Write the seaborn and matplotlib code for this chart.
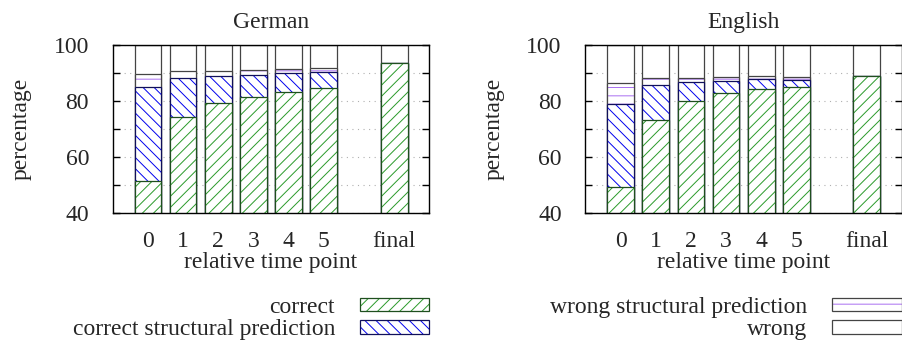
import pandas as pd
import seaborn as sns
import matplotlib.pyplot as plt
from matplotlib.patches import Patch
from matplotlib.ticker import MultipleLocator

sns.set_style("white")
plt.rcParams['font.family'] = ['Liberation Serif', 'DejaVu Serif']
plt.rcParams['hatch.linewidth'] = 0.7

time_points = ["0", "1", "2", "3", "4", "5", "final"]
# blank slot keeps a gap between "5" and "final"
slot_order = ["0", "1", "2", "3", "4", "5", " ", "final"]

german_correct = [51.6, 74.2, 79.1, 81.5, 83.2, 84.7, 93.4]
german_correct_struct = [33.5, 13.8, 9.8, 7.8, 6.7, 5.7, 0.0]
german_wrong_struct = [4.5, 2.7, 1.9, 1.6, 1.3, 1.2, 0.0]

english_correct = [49.5, 73.2, 80.1, 82.7, 84.1, 84.8, 88.9]
english_correct_struct = [29.4, 12.5, 6.5, 4.5, 3.6, 2.6, 0.0]
english_wrong_struct = [7.4, 2.3, 1.7, 1.2, 1.2, 1.2, 0.0]

# (segment, hatch colour, outline colour, hatch) drawn back to front
segments = [
    ("wrong", "white", "#444444", ""),
    ("wrong structural prediction", "#a86ff0", "#444444", "--"),
    ("correct structural prediction", "#0000ee", "#10105a", "\\\\\\"),
    ("correct", "#2a9a2a", "#1f4f1f", "///"),
]
seg_style = {s[0]: s for s in segments}


def stack_tops(correct, correct_struct, wrong_struct):
    tops = pd.DataFrame({"time": time_points})
    tops["correct"] = correct
    tops["correct structural prediction"] = tops["correct"] + correct_struct
    tops["wrong structural prediction"] = tops["correct structural prediction"] + wrong_struct
    tops["wrong"] = 100.0
    return tops


def draw_panel(ax, tops, title, legend_labels):
    for name, hcol, ecol, hatch in segments:
        sns.barplot(data=tops, x="time", y=name, order=slot_order, ax=ax,
                    width=0.76, color="white", saturation=1, errorbar=None,
                    edgecolor=hcol, linewidth=0, hatch=hatch)
        sns.barplot(data=tops, x="time", y=name, order=slot_order, ax=ax,
                    width=0.76, color=ecol, saturation=1, errorbar=None,
                    fill=False, linewidth=0.9)

    ax.set_xlim(-1, 8)
    ax.set_ylim(40, 100)
    ax.yaxis.set_major_locator(MultipleLocator(20))
    ax.yaxis.set_minor_locator(MultipleLocator(10))
    ax.grid(axis="y", which="both", color="#b0b0b0", linestyle=(0, (1, 4)), linewidth=0.8)
    ax.set_axisbelow(True)
    for sp in ax.spines.values():
        sp.set_color("black")
        sp.set_linewidth(1.0)

    ax.tick_params(axis="y", which="both", left=True, right=True, direction="in",
                   length=5, width=1, color="black", pad=17, labelsize=17)
    ax.tick_params(axis="x", length=0, pad=13, labelsize=17)

    ax.set_title(title, fontsize=17, pad=12)
    ax.set_xlabel("relative time point", fontsize=17, labelpad=0)
    ax.set_ylabel("percentage", fontsize=17, labelpad=16)

    handles = []
    for lab in legend_labels:
        _, hcol, ecol, hatch = seg_style[lab]
        handles.append((Patch(facecolor="white", edgecolor=hcol, linewidth=0, hatch=hatch),
                         Patch(fill=False, edgecolor=ecol, linewidth=0.9)))
    ax.legend(handles, legend_labels, loc="upper right", bbox_to_anchor=(1.0, -0.496),
              markerfirst=False, frameon=False, borderpad=0, borderaxespad=0,
              handlelength=2.95, handleheight=0.5, handletextpad=1.05,
              labelspacing=0.06, fontsize=17)


fig, axes = plt.subplots(1, 2, figsize=(9.03, 3.42), dpi=100)
fig.subplots_adjust(left=0.1248, right=0.9989, bottom=0.3763, top=0.8693, wspace=0.4927)

draw_panel(axes[0], stack_tops(german_correct, german_correct_struct, german_wrong_struct),
           "German", ["correct", "correct structural prediction"])
draw_panel(axes[1], stack_tops(english_correct, english_correct_struct, english_wrong_struct),
           "English", ["wrong structural prediction", "wrong"])

plt.savefig("out.png", dpi=100)
